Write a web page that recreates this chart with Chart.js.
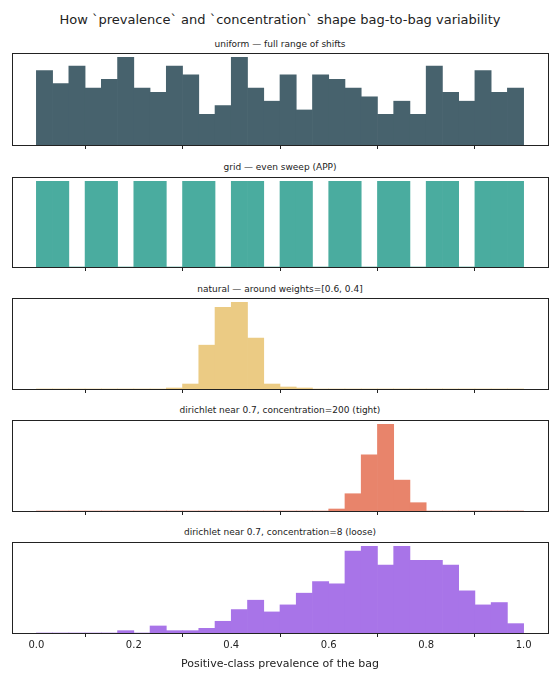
<!DOCTYPE html>
<html><head><meta charset="utf-8">
<script src="https://cdn.jsdelivr.net/npm/chart.js@4"></script>
<style>
body{margin:0;width:560px;height:680px;background:#fff;position:relative;font-family:"DejaVu Sans",sans-serif;color:#222}
.t{position:absolute;left:0;width:560px;text-align:center;white-space:nowrap}
canvas{position:absolute;left:0}
</style></head><body>
<div class="t" style="top:12px;font-size:13px">How `prevalence` and `concentration` shape bag-to-bag variability</div>
<div class="t" style="top:39px;font-size:9px">uniform — full range of shifts</div>
<div class="t" style="top:162px;font-size:9px">grid — even sweep (APP)</div>
<div class="t" style="top:284px;font-size:9px">natural — around weights=[0.6, 0.4]</div>
<div class="t" style="top:405px;font-size:9px">dirichlet near 0.7, concentration=200 (tight)</div>
<div class="t" style="top:527px;font-size:9px">dirichlet near 0.7, concentration=8 (loose)</div>
<script>
const binCenters = Array.from({length:30},(_,i)=>(i+0.5)/30);
const xTicks = [0,0.2,0.4,0.6,0.8,1.0];
const uniformCounts = [17,14,18,13,15,20,13,12,18,16,7,9,20,13,10,16,8,16,15,13,11,7,10,7,18,12,10,17,12,13];
const gridCounts = [1,1,0,1,1,0,1,1,0,1,1,0,1,1,0,1,1,0,1,1,0,1,1,0,1,1,0,1,1,1];
const naturalCounts = [0,0,0,0,0,0,0,0,3,15,132,246,261,153,15,6,3,0,0,0,0,0,0,0,0,0,0,0,0,0];
const tightCounts = [0,0,0,0,0,0,0,0,0,0,0,0,0,0,0,0,0,0,6,52,169,261,93,25,0,0,0,0,0,0];
const looseCounts = [0,0,0,0,0,1,0,3,1,1,2,5,10,14,9,12,17,22,21,35,37,29,37,31,31,29,18,12,13,4];
const xTitle = "Positive-class prevalence of the bag";

const panels = [
  {data:uniformCounts,color:'#47626d',top:53,h:92},
  {data:gridCounts,color:'#4aac9f',top:177,h:90},
  {data:naturalCounts,color:'#ebcb84',top:298,h:91},
  {data:tightCounts,color:'#e8846b',top:420,h:91},
  {data:looseCounts,color:'#a874e8',top:542,h:91,last:true}
];
const box = {id:'box',afterDraw(c){const a=c.chartArea,x=c.ctx;x.save();x.strokeStyle='#222';x.lineWidth=1;x.strokeRect(Math.round(a.left)+0.5,Math.round(a.top)+0.5,Math.round(a.right-a.left),Math.round(a.bottom-a.top));x.restore();}};
panels.forEach(p=>{
  const axisH = p.last?42:12;
  const cv=document.createElement('canvas');
  cv.width=560;cv.height=p.h+axisH;
  cv.style.top=p.top+'px';cv.style.width='560px';cv.style.height=(p.h+axisH)+'px';
  document.body.appendChild(cv);
  const mx=Math.max(...p.data);
  new Chart(cv,{type:'bar',
    data:{datasets:[{data:binCenters.map((c,i)=>({x:c,y:p.data[i]})),backgroundColor:p.color,barPercentage:1,categoryPercentage:1,borderWidth:0}]},
    options:{responsive:false,animation:false,devicePixelRatio:1,
      layout:{padding:{left:12,right:12,top:0,bottom:0}},
      plugins:{legend:{display:false},tooltip:{enabled:false}},
      scales:{
        x:{type:'linear',min:-0.05,max:1.05,offset:false,
          afterBuildTicks:s=>{s.ticks=xTicks.map(v=>({value:v}));},
          afterFit:s=>{s.height=axisH;},
          grid:{drawOnChartArea:false,drawTicks:true,tickLength:4,color:'#222'},
          border:{display:false},
          ticks:{padding:2,color:'#222',font:{size:10,family:'DejaVu Sans'},maxRotation:0,
            callback:v=>p.last?v.toFixed(1):''},
          title:{display:!!p.last,text:xTitle,color:'#222',font:{size:11,family:'DejaVu Sans'},padding:{top:2}}},
        y:{display:false,min:0,max:mx*1.05}
      }},plugins:[box]});
});
</script></body></html>
